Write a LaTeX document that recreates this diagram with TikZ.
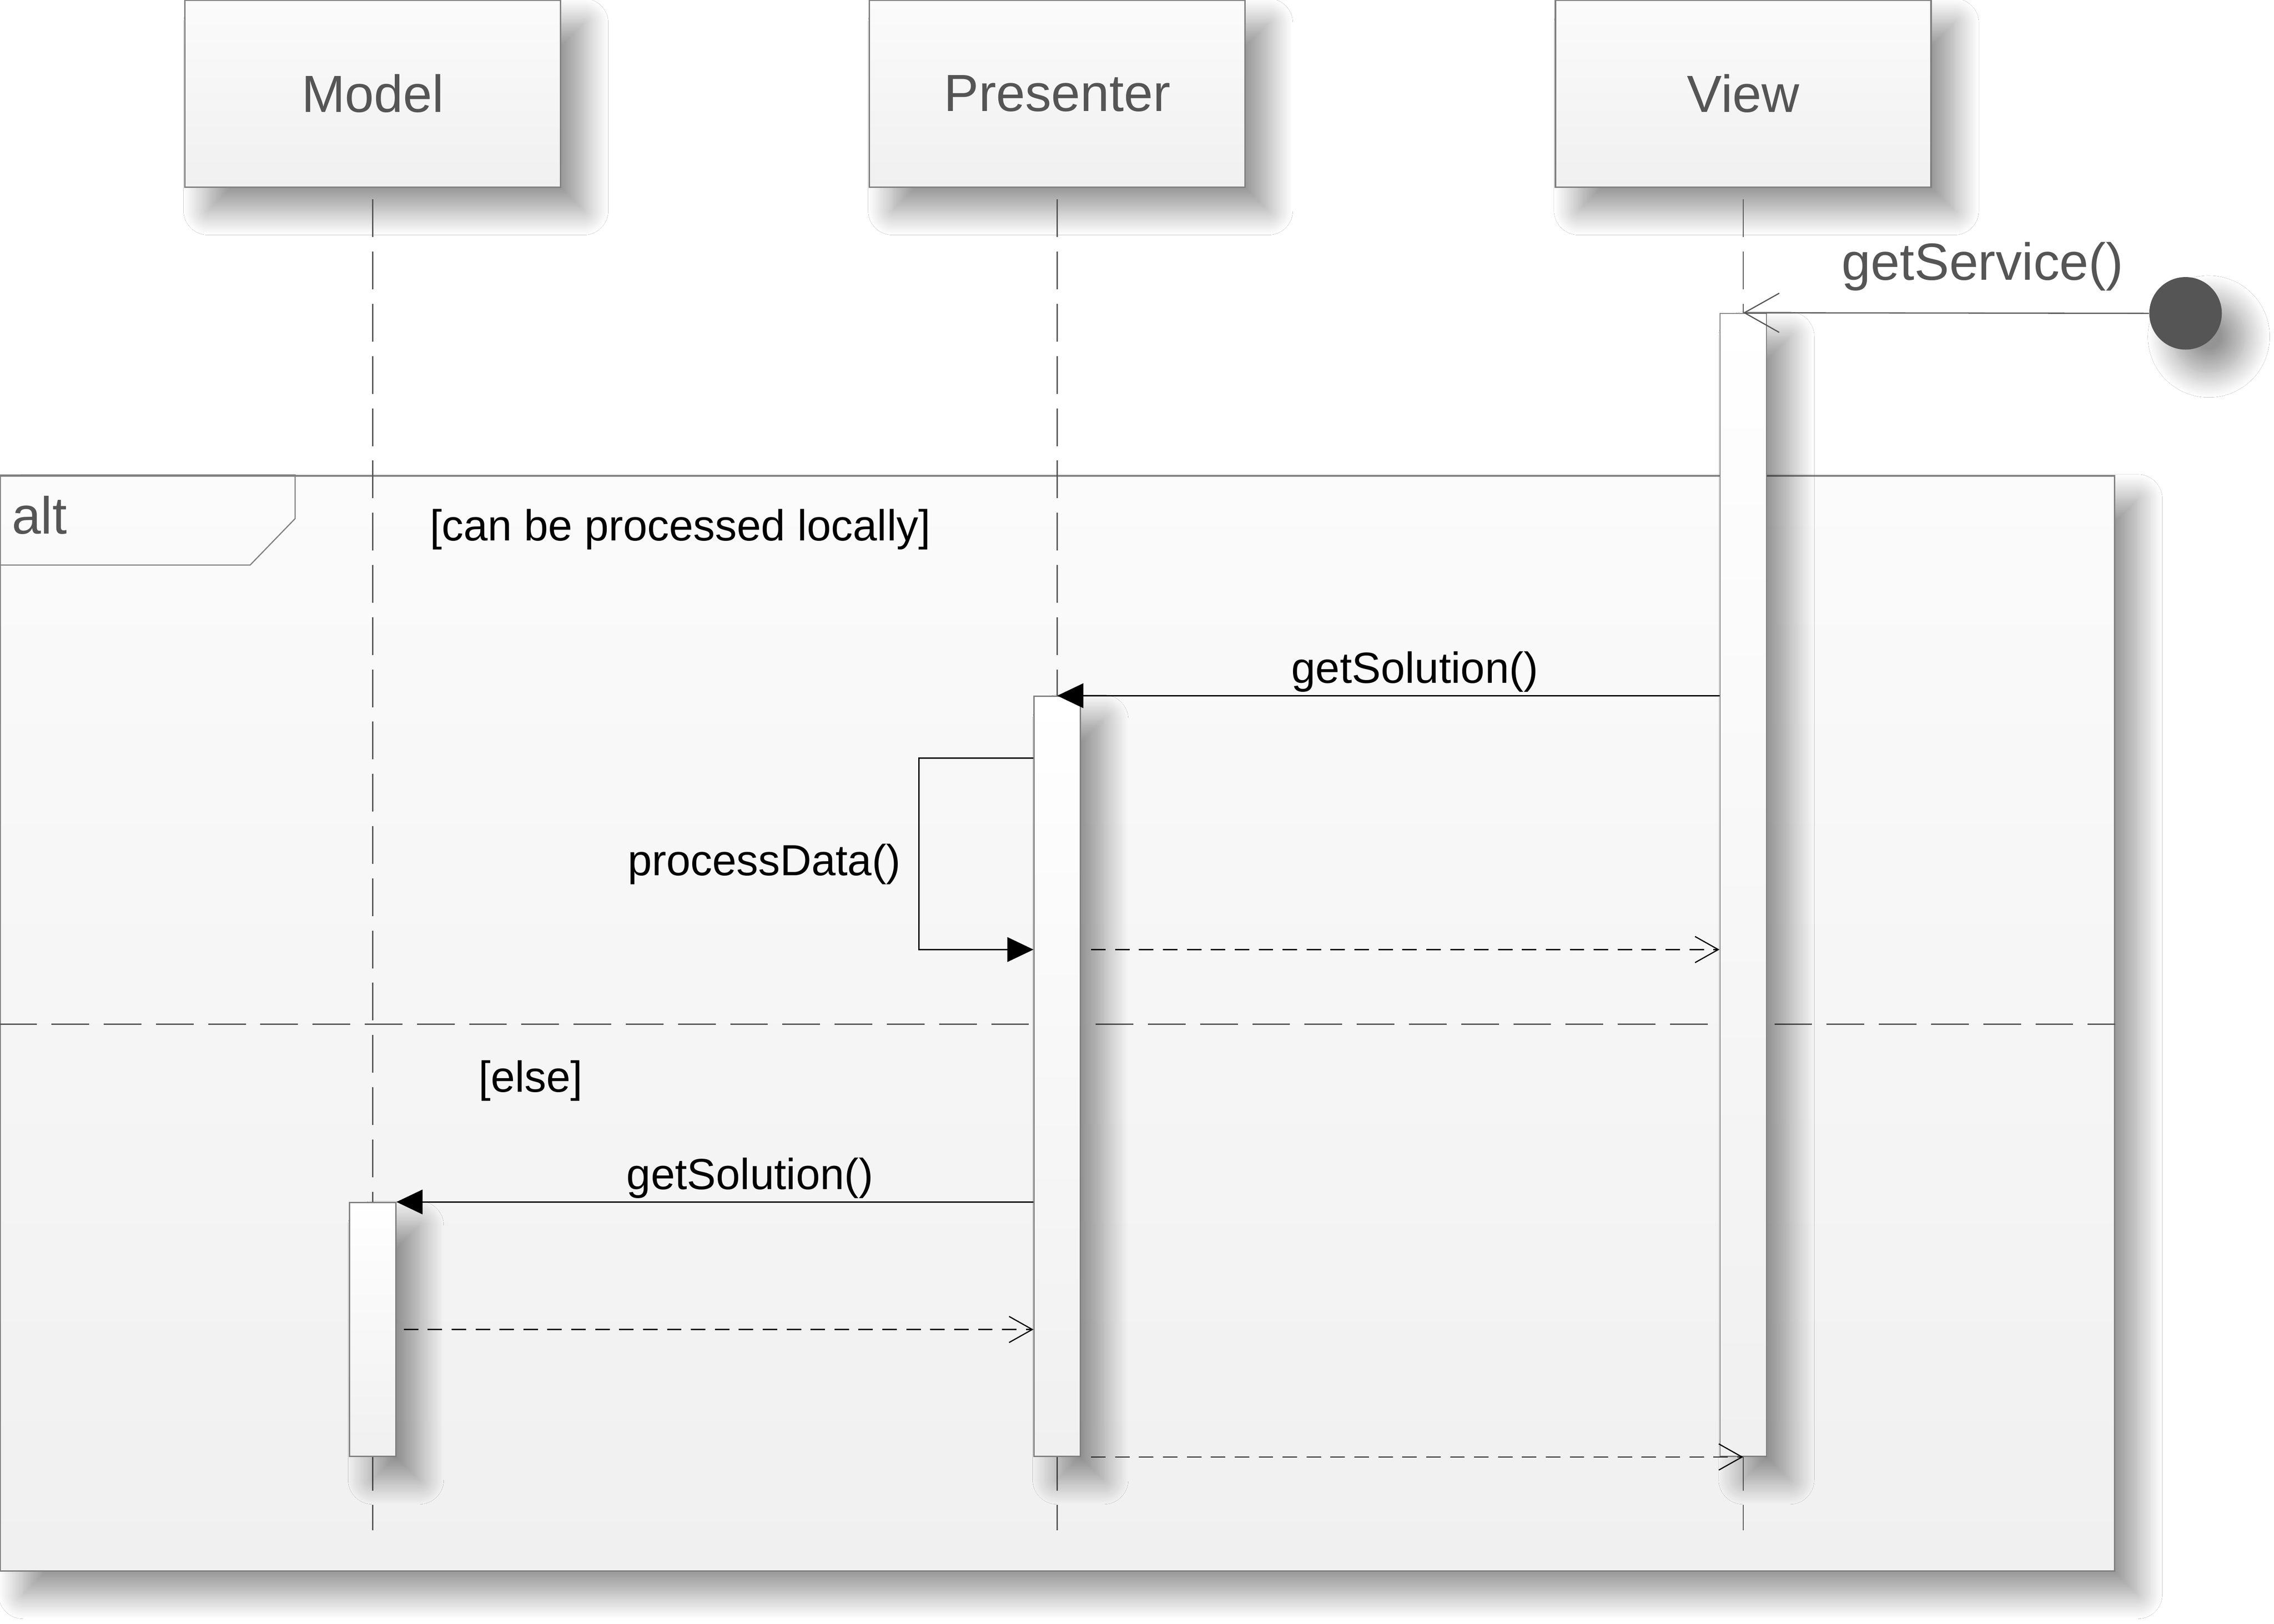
\documentclass[tikz,border=0pt]{standalone}
\usepackage{fontspec}
\setmainfont{Liberation Sans}
\usetikzlibrary{calc,positioning,arrows.meta,shadows.blur}
\definecolor{ink}{HTML}{555555}
\definecolor{edge}{HTML}{808080}
\definecolor{filltop}{HTML}{FBFBFB}
\definecolor{fillbot}{HTML}{F0F0F0}
\newcommand{\headtext}{\fontsize{36}{42}\selectfont}
\newcommand{\msgtext}{\fontsize{30}{36}\selectfont}

\begin{document}
\begin{tikzpicture}[x=1pt,y=-1pt,
  soft/.style={blur shadow={shadow xshift=16pt,shadow yshift=-16pt,
    shadow blur radius=17pt,shadow blur steps=24,shadow opacity=42}},
  head/.style={rectangle,draw=edge,line width=1pt,top color=filltop,bottom color=fillbot,
    minimum width=259pt,minimum height=129pt,text=ink,font=\headtext,soft},
  altbox/.style={rectangle,draw=edge,line width=1pt,top color=filltop,bottom color=fillbot,
    minimum width=1458pt,minimum height=755pt,inner sep=0pt,soft},
  bar/.style={rectangle,draw=edge,line width=0.8pt,top color=white,bottom color=fillbot,
    minimum width=32pt,inner sep=0pt,soft},
  life/.style={draw=ink,line width=0.8pt,dash pattern=on 26pt off 10pt},
  cut/.style={draw=ink,line width=0.8pt,dash pattern=on 26pt off 10pt},
  call/.style={draw=black,line width=0.8pt,-{Triangle[length=18pt,width=17pt]}},
  reply/.style={draw=black,line width=0.8pt,dash pattern=on 10pt off 6.5pt,
    -{Straight Barb[length=16pt,width=18pt]}},
  found/.style={draw=ink,line width=0.8pt,-{Straight Barb[length=24pt,width=27pt]}},
  msg/.style={font=\msgtext,text=black,inner sep=2pt}]
    \path[use as bounding box,fill=white] (0,0) rectangle (1568,1119.3);
    % Heads
    \node[head] (model) at (257,64.5) {Model};
    \node[head] (presenter) at (729,64.5) {Presenter};
    \node[head] (view) at (1202,64.5) {View};
    % Combined fragment
    \node[altbox] (alt) at (729,705.5) {};
    \draw[draw=edge,line width=0.8pt] (alt.north west) -- ++(204,0) -- ++(0,30)
      -- ++(-31,32) -- ++(-173,0);
    \node[anchor=west,text=ink,font=\headtext,inner sep=0pt] (altname) at (8,355) {alt};
    \node[msg] (guard1) at (469,365) {[can be processed locally]};
    \node[msg] (guard2) at (366,745) {[else]};
    \coordinate (split) at (0,706);
    \draw[cut] (alt.west |- split) -- (alt.east |- split);
    % Lifelines
    \coordinate (bottom) at (0,1055);
    \foreach \who in {model,presenter,view}
      \draw[life] ([yshift=-8pt]\who.south) -- (\who.south |- bottom);
    % Activations
    \node[bar,minimum height=788pt] (vbar) at (1202,610) {};
    \node[bar,minimum height=524pt] (pbar) at (729,742) {};
    \node[bar,minimum height=175pt] (mbar) at (257,916.5) {};
    \node[circle,fill=ink,minimum size=50pt,inner sep=0pt,soft] (start) at (1507,216) {};
    % Messages
    \draw[found] (start.west) -- node[pos=0.41,above=12pt,fill=white,font=\headtext,
      text=ink,inner sep=3pt] (svc) {getService()} (vbar.north);
    \draw[call] (vbar.west |- pbar.north) -- node[msg,above,pos=0.46] (sol1) {getSolution()}
      (pbar.north);
    \draw[call] ([yshift=-43pt]pbar.north west) -- ++(-79,0)
      -- node[msg,left=10pt,yshift=-7pt] (proc) {processData()} ++(0,132) -- ++(79,0)
      coordinate (back);
    \draw[reply] ($(pbar.east |- back)+(7,0)$) -- (vbar.west |- back);
    \draw[call] (pbar.west |- mbar.north) -- node[msg,above,pos=0.445] (sol2) {getSolution()}
      (mbar.north east);
    \draw[reply] ($(mbar.east)+(5,0)$) -- (pbar.west |- mbar.east);
    \draw[reply] ($(pbar.south east)+(7,0)$) -- (vbar.south);
\end{tikzpicture}
\end{document}
